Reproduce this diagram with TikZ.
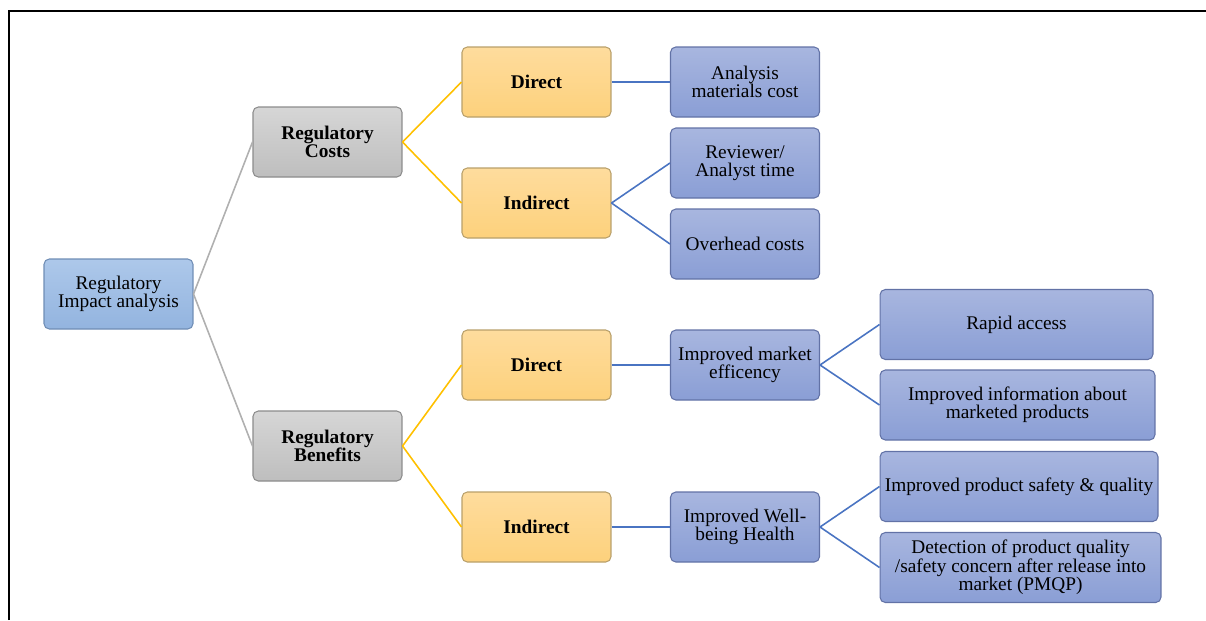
\documentclass[tikz,border=0pt]{standalone}
\usepackage{fontspec}
\setmainfont{Liberation Serif}
\definecolor{rootTop}{HTML}{ADC8EA}
\definecolor{rootBot}{HTML}{93B4DF}
\definecolor{rootLine}{HTML}{6F8DB5}
\definecolor{grayTop}{HTML}{D6D6D6}
\definecolor{grayBot}{HTML}{BEBEBE}
\definecolor{grayLine}{HTML}{8C8C8C}
\definecolor{yelTop}{HTML}{FEDC9D}
\definecolor{yelBot}{HTML}{FDD17C}
\definecolor{yelLine}{HTML}{B9A06A}
\definecolor{leafTop}{HTML}{A8B6DF}
\definecolor{leafBot}{HTML}{8A9ED5}
\definecolor{leafLine}{HTML}{6272A6}
\definecolor{grayEdge}{HTML}{B0B0B0}
\definecolor{yelEdge}{HTML}{FFC000}
\definecolor{blueEdge}{HTML}{4A74C2}

\begin{document}

\begin{tikzpicture}[x=0.02cm,y=-0.02cm,
  box/.style={draw, rounded corners=3pt, minimum width=2.98cm, minimum height=1.4cm,
    align=center, inner sep=1pt, line width=0.6pt, font=\fontsize{11}{10.5}\selectfont},
  rootbox/.style={box, top color=rootTop, bottom color=rootBot, draw=rootLine},
  graybox/.style={box, top color=grayTop, bottom color=grayBot, draw=grayLine, font=\fontsize{11}{10.5}\selectfont\bfseries},
  yelbox/.style={box, top color=yelTop, bottom color=yelBot, draw=yelLine, font=\fontsize{11}{10.5}\selectfont\bfseries},
  leafbox/.style={box, top color=leafTop, bottom color=leafBot, draw=leafLine}]
\useasboundingbox (0,0) rectangle (1206,620);
\draw[line width=1.3pt] (9,620) -- (9,11) -- (1206,11);

\node[rootbox] (ria) at (118.5,294) {Regulatory\\Impact analysis};
\node[graybox] (costs) at (327.5,142) {Regulatory\\Costs};
\node[graybox] (benefits) at (327.5,446) {Regulatory\\Benefits};

\node[yelbox] (cdirect) at (536.5,82) {Direct};
\node[yelbox] (cindirect) at (536.5,203) {Indirect};
\node[yelbox] (bdirect) at (536.5,365) {Direct};
\node[yelbox] (bindirect) at (536.5,527) {Indirect};

\node[leafbox] (material) at (745,82) {Analysis\\materials cost};
\node[leafbox] (reviewer) at (745,163) {Reviewer/\\Analyst time};
\node[leafbox] (overhead) at (745,244) {Overhead costs};
\node[leafbox] (market) at (745,365) {Improved market\\efficency};
\node[leafbox] (wellbeing) at (745,527) {Improved Well-\\being Health};

\node[leafbox, minimum width=5.46cm] (rapid) at (1016.5,324.5) {Rapid access};
\node[leafbox, minimum width=5.5cm] (info) at (1017.5,405) {Improved information about\\marketed products};
\node[leafbox, minimum width=5.56cm] (safety) at (1019,486.5) {Improved product safety \& quality};
\node[leafbox, minimum width=5.62cm] (detect) at (1020.5,567.5) {Detection of product quality\\/safety concern after release into\\market (PMQP)};

\draw[grayEdge, line width=0.9pt] (ria.east) -- (costs.west);
\draw[grayEdge, line width=0.9pt] (ria.east) -- (benefits.west);
\draw[yelEdge, line width=0.9pt] (costs.east) -- (cdirect.west);
\draw[yelEdge, line width=0.9pt] (costs.east) -- (cindirect.west);
\draw[yelEdge, line width=0.9pt] (benefits.east) -- (bdirect.west);
\draw[yelEdge, line width=0.9pt] (benefits.east) -- (bindirect.west);
\draw[blueEdge, line width=0.9pt] (cdirect.east) -- (material.west);
\draw[blueEdge, line width=0.9pt] (cindirect.east) -- (reviewer.west);
\draw[blueEdge, line width=0.9pt] (cindirect.east) -- (overhead.west);
\draw[blueEdge, line width=0.9pt] (bdirect.east) -- (market.west);
\draw[blueEdge, line width=0.9pt] (bindirect.east) -- (wellbeing.west);
\draw[blueEdge, line width=0.9pt] (market.east) -- (rapid.west);
\draw[blueEdge, line width=0.9pt] (market.east) -- (info.west);
\draw[blueEdge, line width=0.9pt] (wellbeing.east) -- (safety.west);
\draw[blueEdge, line width=0.9pt] (wellbeing.east) -- (detect.west);
\end{tikzpicture}

\end{document}
